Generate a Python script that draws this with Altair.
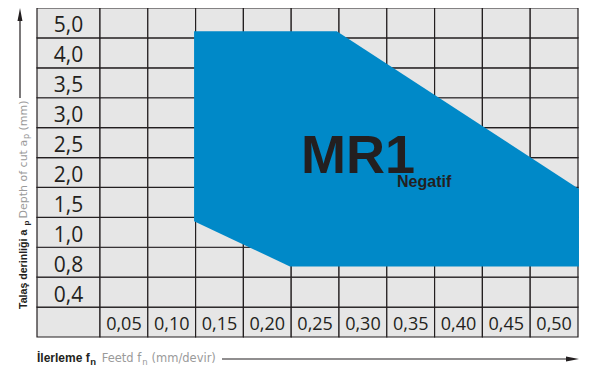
import altair as alt
import pandas as pd

# ---------------- data ----------------
feed_labels = ["0,05", "0,10", "0,15", "0,20", "0,25", "0,30", "0,35", "0,40", "0,45", "0,50"]
feed_values = [0.05, 0.10, 0.15, 0.20, 0.25, 0.30, 0.35, 0.40, 0.45, 0.50]
# depth of cut rows, bottom to top (row 0 is the feed-label row)
depth_labels = ["0,4", "0,8", "1,0", "1,5", "2,0", "2,5", "3,0", "3,5", "4,0", "5,0"]

# MR1 application area: feed (mm/rev) vs position on the depth rows
area_feed = [0.1234, 0.2237, 0.2727, 0.5260]
area_top = [10.22, 10.22, 10.22, 4.95]
area_bottom = [3.87, 2.36, 2.36, 2.36]

insert_name = "MR1"
insert_type = "Negatif"

# axis title pieces: (text, is_subscript)
x_title_tr = [("İlerleme f", False), ("n", True)]
x_title_en = [("Feetd f", False), ("n", True), ("(mm/devir)", False)]
y_title_tr = [("Talaş derinliği a", False), ("p", True)]
y_title_en = [("Depth of cut a", False), ("p", True), ("(mm)", False)]

# ---------------- layout ----------------
W, H = 541, 329
COL = 0.05
LABEL_COL = COL * 63 / 47.8
X_MIN = feed_values[0] - COL / 2 - LABEL_COL
X_MAX = feed_values[-1] + COL / 2
N_ROWS = len(depth_labels) + 1

DARK = "#231f20"
GREY_TXT = "#9a9a9a"
CELL = "#e6e6e6"
BLUE = "#0089c8"

xs = alt.Scale(domain=[X_MIN, X_MAX], nice=False, zero=False)
ys = alt.Scale(domain=[0, N_ROWS], nice=False, zero=False)

# cells
cells = []
col_edges = [(X_MIN, feed_values[0] - COL / 2)] + [(v - COL / 2, v + COL / 2) for v in feed_values]
for r in range(N_ROWS):
    for (a, b) in col_edges:
        cells.append({"x": a, "x2": b, "y": r, "y2": r + 1})
cells_df = pd.DataFrame(cells)

grid = alt.Chart(cells_df).mark_rect(fill=CELL, stroke=DARK, strokeWidth=1.2).encode(
    x=alt.X("x:Q", scale=xs, axis=None),
    x2="x2:Q",
    y=alt.Y("y:Q", scale=ys, axis=None),
    y2="y2:Q",
)

area_df = pd.DataFrame({"feed": area_feed, "top": area_top, "bottom": area_bottom})
area = alt.Chart(area_df).mark_area(color=BLUE, opacity=1, interpolate="linear").encode(
    x=alt.X("feed:Q", scale=xs, axis=None),
    y=alt.Y("top:Q", scale=ys, axis=None),
    y2="bottom:Q",
)

row_df = pd.DataFrame({
    "label": depth_labels,
    "x": [(X_MIN + feed_values[0] - COL / 2) / 2] * len(depth_labels),
    "y": [i + 1.5 for i in range(len(depth_labels))],
})
row_text = alt.Chart(row_df).mark_text(
    font="Open Sans", fontSize=21, color=DARK, align="center", baseline="middle", dy=3.5
).encode(
    x=alt.X("x:Q", scale=xs, axis=None),
    y=alt.Y("y:Q", scale=ys, axis=None),
    text="label:N",
)

col_df = pd.DataFrame({"label": feed_labels, "x": feed_values, "y": [0.5] * len(feed_values)})
col_text = alt.Chart(col_df).mark_text(
    font="Open Sans", fontSize=18, color=DARK, align="center", baseline="middle", dy=3
).encode(
    x=alt.X("x:Q", scale=xs, axis=None),
    y=alt.Y("y:Q", scale=ys, axis=None),
    text="label:N",
)

one = pd.DataFrame({"t": [insert_name]})
mr1 = alt.Chart(pd.DataFrame({"t": [insert_name]})).mark_text(
    font="Liberation Sans", fontWeight="bold", fontSize=54, color=DARK,
    align="center", baseline="alphabetic"
).encode(x=alt.value(321), y=alt.value(165), text="t:N")

neg = alt.Chart(pd.DataFrame({"t": [insert_type]})).mark_text(
    font="Liberation Sans", fontWeight="bold", fontSize=16, color=DARK,
    align="left", baseline="alphabetic"
).encode(x=alt.value(360), y=alt.value(179), text="t:N")


def piece(text, x, y, font, size, color, bold=False, angle=0):
    kw = dict(font=font, fontSize=size, color=color, align="left", baseline="alphabetic")
    if bold:
        kw["fontWeight"] = "bold"
    if angle:
        kw["angle"] = angle
    return alt.Chart(pd.DataFrame({"t": [text]})).mark_text(**kw).encode(
        x=alt.value(x), y=alt.value(y), text="t:N"
    )


# x title pieces (horizontal)
XB = 354
x_pieces = [
    piece(x_title_tr[0][0], 0, XB, "Liberation Sans", 12, DARK, bold=True),
    piece(x_title_tr[1][0], 53.2, XB + 2.5, "Liberation Sans", 9.5, DARK, bold=True),
    piece(x_title_en[0][0], 64.7, XB, "DejaVu Sans", 11.5, GREY_TXT),
    piece(x_title_en[1][0], 105.3, XB + 2.5, "DejaVu Sans", 8.5, GREY_TXT),
    piece(x_title_en[2][0], 114.5, XB, "DejaVu Sans", 11.5, GREY_TXT),
]

# y title pieces (rotated, reading upward)
YX = -10
y_pieces = [
    piece(y_title_tr[0][0], YX, 301, "Liberation Sans", 10.6, DARK, bold=True, angle=270),
    piece(y_title_tr[1][0], YX + 2.2, 217.5, "Liberation Sans", 8, DARK, bold=True, angle=270),
    piece(y_title_en[0][0], YX, 210.5, "DejaVu Sans", 11, GREY_TXT, angle=270),
    piece(y_title_en[1][0], YX + 2.2, 131, "DejaVu Sans", 8, GREY_TXT, angle=270),
    piece(y_title_en[2][0], YX, 122.5, "DejaVu Sans", 11, GREY_TXT, angle=270),
]

# arrows
x_rule = alt.Chart(one).mark_rule(color=DARK, strokeWidth=1.2).encode(
    x=alt.value(185), x2=alt.value(536), y=alt.value(351)
)
x_head = alt.Chart(one).mark_point(
    shape="M -1 -0.38 L 1 0 L -1 0.38 Z", filled=True, size=169, color=DARK, opacity=1, strokeWidth=0
).encode(x=alt.value(535.5), y=alt.value(351))

y_rule = alt.Chart(one).mark_rule(color=DARK, strokeWidth=1.2).encode(
    x=alt.value(-17), y=alt.value(6), y2=alt.value(90)
)
y_head = alt.Chart(one).mark_point(
    shape="M -0.38 1 L 0 -1 L 0.38 1 Z", filled=True, size=169, color=DARK, opacity=1, strokeWidth=0
).encode(x=alt.value(-17), y=alt.value(6.5))

chart = alt.layer(
    grid, area, row_text, col_text, mr1, neg, *x_pieces, *y_pieces, x_rule, x_head, y_rule, y_head
).properties(
    width=W, height=H,
    padding={"left": 29, "top": 0, "right": 6, "bottom": 28},
    autosize=alt.AutoSizeParams(type="none"),
    background="white",
).configure_view(stroke=None)

chart.save("out.html", embed_options={"renderer": "svg", "actions": False})
